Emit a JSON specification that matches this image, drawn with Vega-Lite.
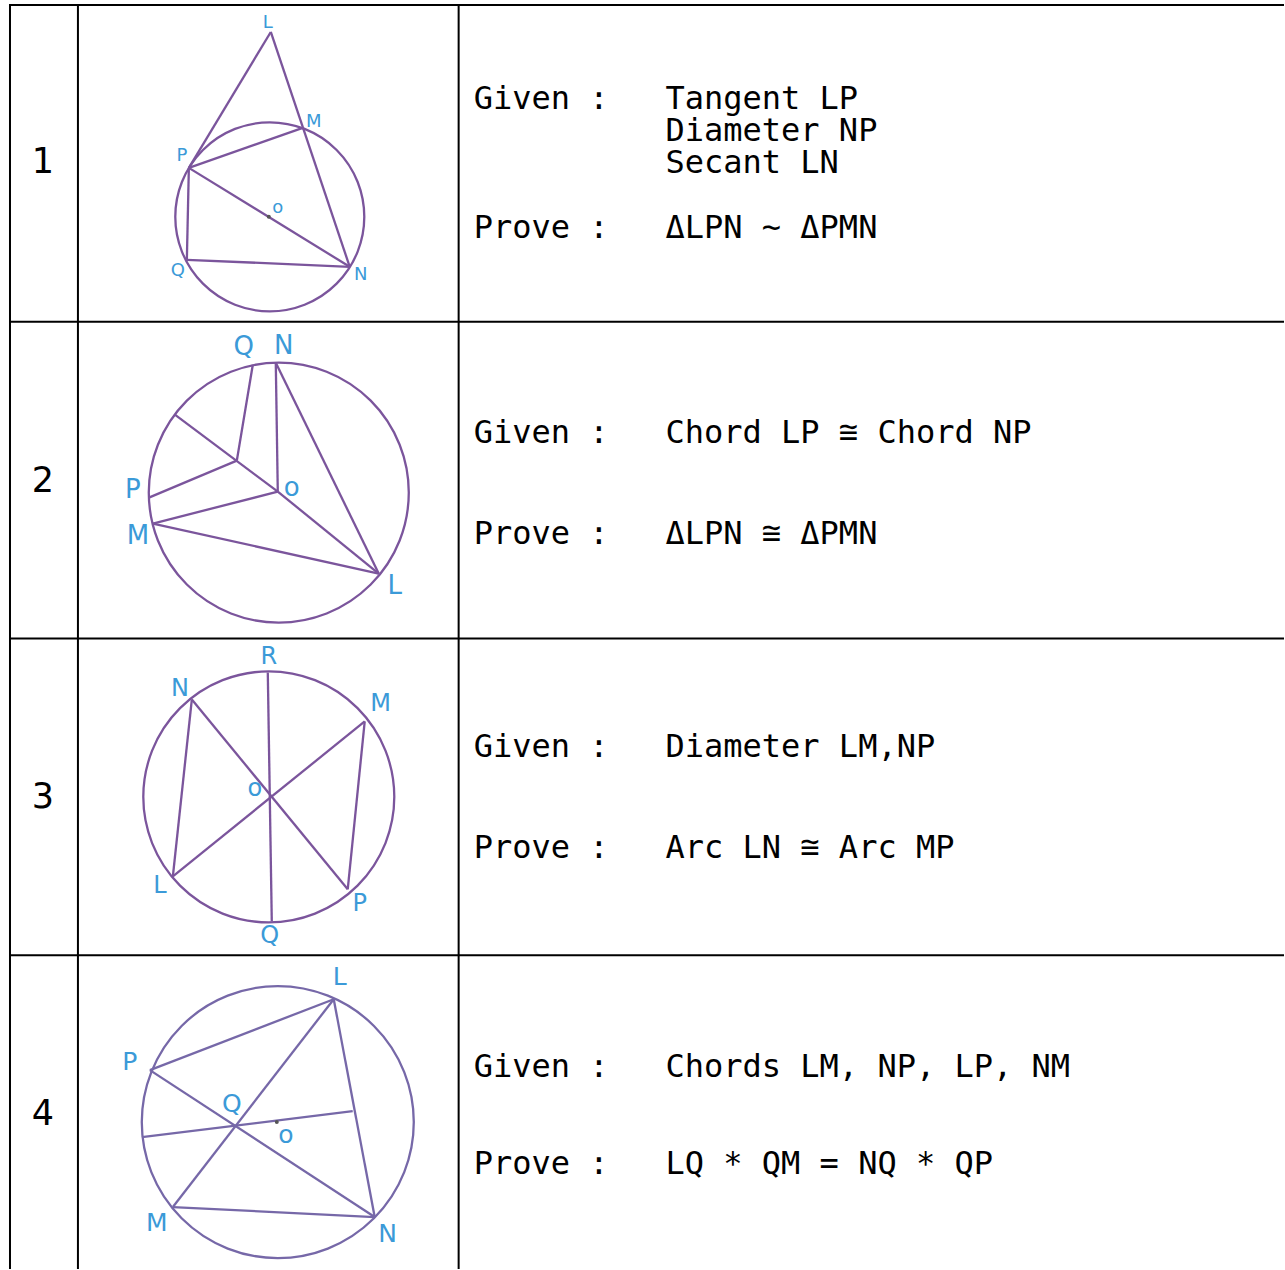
{
  "$schema": "https://vega.github.io/schema/vega-lite/v6.json",
  "autosize": {"type": "fit", "contains": "padding"},
  "width": 1285,
  "height": 1270,
  "padding": 0,
  "background": "white",
  "config": {"view": {"stroke": null}},
  "datasets": {
    "table": [
      {"x1": 10, "y1": 5, "x2": 1285, "y2": 5},
      {"x1": 10, "y1": 322, "x2": 1285, "y2": 322},
      {"x1": 10, "y1": 639, "x2": 1285, "y2": 639},
      {"x1": 10, "y1": 956, "x2": 1285, "y2": 956},
      {"x1": 10, "y1": 4, "x2": 10, "y2": 1270},
      {"x1": 78, "y1": 4, "x2": 78, "y2": 1270},
      {"x1": 459, "y1": 4, "x2": 459, "y2": 1270}
    ],
    "segments": [
      {"d": "1", "x1": 271, "y1": 32, "x2": 189, "y2": 168},
      {"d": "1", "x1": 271, "y1": 32, "x2": 350, "y2": 267},
      {"d": "1", "x1": 189, "y1": 168, "x2": 303, "y2": 128},
      {"d": "1", "x1": 189, "y1": 168, "x2": 350, "y2": 267},
      {"d": "1", "x1": 189, "y1": 168, "x2": 187, "y2": 260},
      {"d": "1", "x1": 187, "y1": 260, "x2": 350, "y2": 267},
      {"d": "2", "x1": 276, "y1": 363, "x2": 278, "y2": 492},
      {"d": "2", "x1": 276, "y1": 363, "x2": 379, "y2": 574},
      {"d": "2", "x1": 278, "y1": 492, "x2": 379, "y2": 574},
      {"d": "2", "x1": 278, "y1": 492, "x2": 153, "y2": 524},
      {"d": "2", "x1": 153, "y1": 524, "x2": 379, "y2": 574},
      {"d": "2", "x1": 175, "y1": 415, "x2": 278, "y2": 492},
      {"d": "2", "x1": 237, "y1": 461, "x2": 253, "y2": 365},
      {"d": "2", "x1": 237, "y1": 461, "x2": 149, "y2": 498},
      {"d": "3", "x1": 268, "y1": 673, "x2": 272, "y2": 922},
      {"d": "3", "x1": 192, "y1": 700, "x2": 348, "y2": 890},
      {"d": "3", "x1": 365, "y1": 722, "x2": 173, "y2": 877},
      {"d": "3", "x1": 192, "y1": 700, "x2": 173, "y2": 877},
      {"d": "3", "x1": 365, "y1": 722, "x2": 348, "y2": 890},
      {"d": "4", "x1": 150, "y1": 1071, "x2": 334, "y2": 1000},
      {"d": "4", "x1": 334, "y1": 1000, "x2": 173, "y2": 1208},
      {"d": "4", "x1": 150, "y1": 1071, "x2": 375, "y2": 1218},
      {"d": "4", "x1": 334, "y1": 1000, "x2": 375, "y2": 1218},
      {"d": "4", "x1": 173, "y1": 1208, "x2": 375, "y2": 1218},
      {"d": "4", "x1": 142, "y1": 1138, "x2": 353, "y2": 1112}
    ],
    "circles": [
      {"d": "1", "cx": 270, "cy": 217, "r": 94.5},
      {"d": "2", "cx": 279, "cy": 493, "r": 130},
      {"d": "3", "cx": 269, "cy": 797.5, "r": 125.5},
      {"d": "4", "cx": 278, "cy": 1123, "r": 136}
    ],
    "dots": [
      {"x": 269, "y": 217},
      {"x": 277, "y": 1123}
    ],
    "plabels": [
      {"d": "1", "x": 268, "y": 23, "t": "L"},
      {"d": "1", "x": 314, "y": 122, "t": "M"},
      {"d": "1", "x": 182, "y": 156, "t": "P"},
      {"d": "1", "x": 278, "y": 208, "t": "o"},
      {"d": "1", "x": 178, "y": 271, "t": "Q"},
      {"d": "1", "x": 361, "y": 275, "t": "N"},
      {"d": "2", "x": 244, "y": 347, "t": "Q"},
      {"d": "2", "x": 284, "y": 346, "t": "N"},
      {"d": "2", "x": 133, "y": 490, "t": "P"},
      {"d": "2", "x": 292, "y": 488, "t": "o"},
      {"d": "2", "x": 138, "y": 536, "t": "M"},
      {"d": "2", "x": 395, "y": 586, "t": "L"},
      {"d": "3", "x": 269, "y": 658, "t": "R"},
      {"d": "3", "x": 180, "y": 690, "t": "N"},
      {"d": "3", "x": 381, "y": 705, "t": "M"},
      {"d": "3", "x": 255, "y": 790, "t": "o"},
      {"d": "3", "x": 160, "y": 887, "t": "L"},
      {"d": "3", "x": 360, "y": 905, "t": "P"},
      {"d": "3", "x": 270, "y": 937, "t": "Q"},
      {"d": "4", "x": 340, "y": 978, "t": "L"},
      {"d": "4", "x": 130, "y": 1063, "t": "P"},
      {"d": "4", "x": 232, "y": 1105, "t": "Q"},
      {"d": "4", "x": 286, "y": 1136, "t": "o"},
      {"d": "4", "x": 157, "y": 1224, "t": "M"},
      {"d": "4", "x": 388, "y": 1235, "t": "N"}
    ],
    "nums": [
      {"x": 43, "y": 173, "t": "1"},
      {"x": 43, "y": 492, "t": "2"},
      {"x": 43, "y": 809, "t": "3"},
      {"x": 43, "y": 1126, "t": "4"}
    ],
    "texts": [
      {"x": 474, "y": 109, "t": "Given :"},
      {"x": 666, "y": 109, "t": ["Tangent LP", "Diameter NP", "Secant LN"]},
      {"x": 474, "y": 238, "t": "Prove :"},
      {"x": 666, "y": 238, "t": "ΔLPN ~ ΔPMN"},
      {"x": 474, "y": 443, "t": "Given :"},
      {"x": 666, "y": 443, "t": "Chord LP ≅ Chord NP"},
      {"x": 474, "y": 544, "t": "Prove :"},
      {"x": 666, "y": 544, "t": "ΔLPN ≅ ΔPMN"},
      {"x": 474, "y": 758, "t": "Given :"},
      {"x": 666, "y": 758, "t": "Diameter LM,NP"},
      {"x": 474, "y": 859, "t": "Prove :"},
      {"x": 666, "y": 859, "t": "Arc LN ≅ Arc MP"},
      {"x": 474, "y": 1078, "t": "Given :"},
      {"x": 666, "y": 1078, "t": "Chords LM, NP, LP, NM"},
      {"x": 474, "y": 1175, "t": "Prove :"},
      {"x": 666, "y": 1175, "t": "LQ * QM = NQ * QP"}
    ]
  },
  "layer": [
    {
      "data": {"name": "table"},
      "mark": {"type": "rule", "color": "black", "strokeWidth": 2},
      "encoding": {
        "x": {"field": "x1", "type": "quantitative", "scale": {"domain": [0, 1285], "nice": false, "zero": false}, "axis": null},
        "y": {"field": "y1", "type": "quantitative", "scale": {"domain": [0, 1270], "nice": false, "zero": false, "reverse": true}, "axis": null},
        "x2": {"field": "x2"},
        "y2": {"field": "y2"}
      }
    },
    {
      "data": {"name": "circles"},
      "mark": {"type": "point", "shape": "circle", "filled": false, "strokeWidth": 2.3, "opacity": 1},
      "encoding": {
        "x": {"field": "cx", "type": "quantitative"},
        "y": {"field": "cy", "type": "quantitative"},
        "size": {"field": "r", "type": "quantitative", "scale": {"type": "pow", "exponent": 2, "domain": [0, 100], "range": [0, 40000]}, "legend": null},
        "color": {"field": "d", "type": "nominal", "scale": {"domain": ["1", "2", "3", "4"], "range": ["#7b559c", "#7b559c", "#7b559c", "#7668a8"]}, "legend": null}
      }
    },
    {
      "data": {"name": "segments"},
      "mark": {"type": "rule", "strokeWidth": 2.3},
      "encoding": {
        "x": {"field": "x1", "type": "quantitative"},
        "y": {"field": "y1", "type": "quantitative"},
        "x2": {"field": "x2"},
        "y2": {"field": "y2"},
        "color": {"field": "d", "type": "nominal", "legend": null}
      }
    },
    {
      "data": {"name": "dots"},
      "mark": {"type": "point", "shape": "circle", "filled": true, "size": 16, "color": "#555555", "opacity": 1},
      "encoding": {
        "x": {"field": "x", "type": "quantitative"},
        "y": {"field": "y", "type": "quantitative"}
      }
    },
    {
      "data": {"name": "plabels"},
      "transform": [{"filter": "datum.d == '1'"}],
      "mark": {"type": "text", "font": "DejaVu Sans", "fontSize": 18, "color": "#3b9ad8", "align": "center", "baseline": "middle"},
      "encoding": {
        "x": {"field": "x", "type": "quantitative"},
        "y": {"field": "y", "type": "quantitative"},
        "text": {"field": "t"}
      }
    },
    {
      "data": {"name": "plabels"},
      "transform": [{"filter": "datum.d == '2'"}],
      "mark": {"type": "text", "font": "DejaVu Sans", "fontSize": 26, "color": "#3b9ad8", "align": "center", "baseline": "middle"},
      "encoding": {
        "x": {"field": "x", "type": "quantitative"},
        "y": {"field": "y", "type": "quantitative"},
        "text": {"field": "t"}
      }
    },
    {
      "data": {"name": "plabels"},
      "transform": [{"filter": "datum.d == '3'"}],
      "mark": {"type": "text", "font": "DejaVu Sans", "fontSize": 24, "color": "#3b9ad8", "align": "center", "baseline": "middle"},
      "encoding": {
        "x": {"field": "x", "type": "quantitative"},
        "y": {"field": "y", "type": "quantitative"},
        "text": {"field": "t"}
      }
    },
    {
      "data": {"name": "plabels"},
      "transform": [{"filter": "datum.d == '4'"}],
      "mark": {"type": "text", "font": "DejaVu Sans", "fontSize": 25, "color": "#3b9ad8", "align": "center", "baseline": "middle"},
      "encoding": {
        "x": {"field": "x", "type": "quantitative"},
        "y": {"field": "y", "type": "quantitative"},
        "text": {"field": "t"}
      }
    },
    {
      "data": {"name": "nums"},
      "mark": {"type": "text", "font": "DejaVu Sans", "fontSize": 35, "color": "black", "align": "center", "baseline": "alphabetic"},
      "encoding": {
        "x": {"field": "x", "type": "quantitative"},
        "y": {"field": "y", "type": "quantitative"},
        "text": {"field": "t"}
      }
    },
    {
      "data": {"name": "texts"},
      "mark": {"type": "text", "font": "DejaVu Sans Mono", "fontSize": 32, "lineHeight": 32, "color": "black", "align": "left", "baseline": "alphabetic"},
      "encoding": {
        "x": {"field": "x", "type": "quantitative"},
        "y": {"field": "y", "type": "quantitative"},
        "text": {"field": "t"}
      }
    }
  ]
}
